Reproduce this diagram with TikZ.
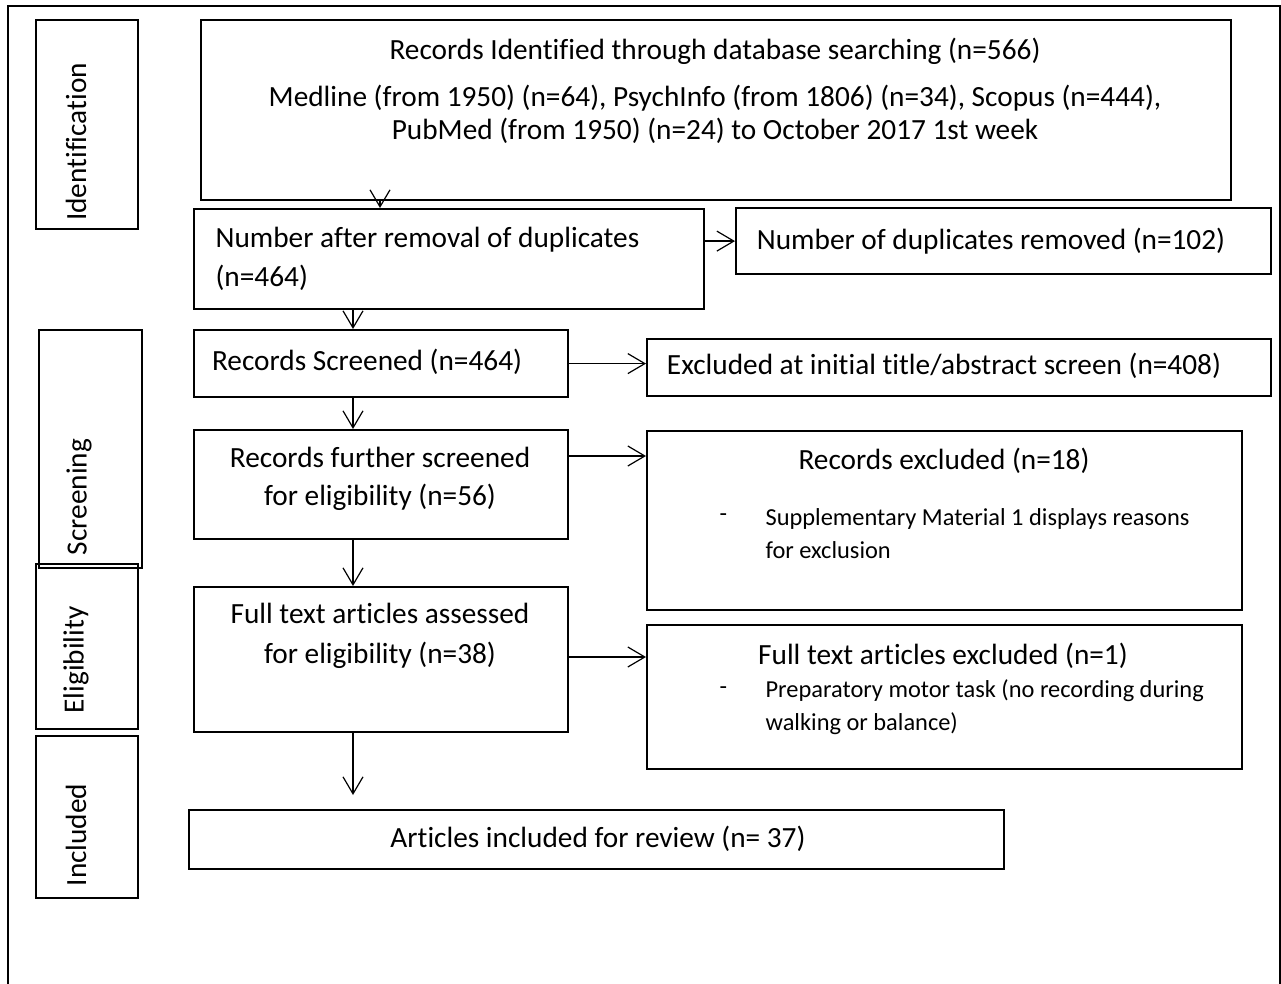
\documentclass[tikz,border=0pt]{standalone}
\usepackage{fontspec}
\setmainfont{Carlito}[RawFeature={-liga;-clig;-calt;-dlig}]
\usetikzlibrary{arrows.meta,positioning}

\newcommand{\flowfont}{\fontsize{29.3}{38}\selectfont}
\newcommand{\notefont}{\fontsize{24.4}{33}\selectfont}

\begin{document}
\begin{tikzpicture}[x=1pt,y=-1pt,->,>={Straight Barb[length=17pt,width=20pt]},line width=1.2pt]
%\tikzstyle{every edge}=[draw]
\tikzset{box/.style={draw,line width=2.2pt,inner sep=0pt,anchor=north west}}
\tikzset{txt/.style={inner sep=0pt,font=\flowfont,align=center}}
\tikzset{note/.style={inner sep=0pt,font=\notefont,align=left,anchor=west}}
\tikzset{side/.style={txt,rotate=90}}

\useasboundingbox (0,0) rectangle (1281,984);
\draw[-,line width=2.2pt] (8,984) -- (8,6) -- (1280,6) -- (1280,984);

% stage boxes on the left
\node[box,minimum width=102pt,minimum height=209pt]	(ident)		at (35,19)	{};
\node[box,minimum width=103pt,minimum height=238pt]	(screen)	at (38,329)	{};
\node[box,minimum width=102pt,minimum height=165pt]	(elig)		at (35,563)	{};
\node[box,minimum width=102pt,minimum height=162pt]	(incl)		at (35,735)	{};

\node[side]	(identT)	at (76,142)	{Identification};
\node[side]	(screenT)	at (79,497)	{Screening};
\node[side]	(eligT)		at (76,660)	{Eligibility};
\node[side]	(inclT)		at (76,835)	{Included};

% flow boxes
\node[box,minimum width=1030pt,minimum height=180pt]	(top)		at (200,19)	{};
\node[box,minimum width=510pt,minimum height=100pt]	(dupl)		at (193,208)	{};
\node[box,minimum width=535pt,minimum height=66pt]	(removed)	at (735,207)	{};
\node[box,minimum width=374pt,minimum height=67pt]	(screened)	at (193,329)	{};
\node[box,minimum width=624pt,minimum height=57pt]	(excl1)		at (646,338)	{};
\node[box,minimum width=374pt,minimum height=109pt]	(further)	at (193,429)	{};
\node[box,minimum width=595pt,minimum height=179pt]	(excl2)		at (646,430)	{};
\node[box,minimum width=374pt,minimum height=145pt]	(fulltext)	at (193,586)	{};
\node[box,minimum width=595pt,minimum height=144pt]	(excl3)		at (646,624)	{};
\node[box,minimum width=815pt,minimum height=59pt]	(included)	at (188,809)	{};

% texts
\node[txt,font=\fontsize{29.3}{33}\selectfont]	(topT)	at (715,91)
	{Records Identified through database searching (n=566)\\[14pt]
	 Medline (from 1950) (n=64), PsychInfo (from 1806) (n=34), Scopus (n=444),\\
	 PubMed (from 1950) (n=24) to October 2017 1st week};
\node[txt,align=left,anchor=west,font=\fontsize{29.3}{39}\selectfont]	(duplT)	at (215,259)
	{Number after removal of duplicates\\(n=464)};
\node[txt]	(removedT)	at (991,241)	{Number of duplicates removed (n=102)};
\node[txt]	(screenedT)	at (367,362)	{Records Screened (n=464)};
\node[txt]	(excl1T)	at (944,366)	{Excluded at initial title/abstract screen (n=408)};
\node[txt]	(furtherT)	at (380,479)	{Records further screened\\for eligibility (n=56)};
\node[txt]	(excl2T)	at (944,461)	{Records excluded (n=18)};
\node[note]	(excl2D)	at (719,518)	{-};
\node[note]	(excl2L)	at (765,534)	{Supplementary Material 1 displays reasons\\for exclusion};
\node[txt,font=\fontsize{29.3}{40}\selectfont]	(fulltextT)	at (380,636)	{Full text articles assessed\\for eligibility (n=38)};
\node[txt]	(excl3T)	at (943,656)	{Full text articles excluded (n=1)};
\node[note]	(excl3D)	at (719,691)	{-};
\node[note]	(excl3L)	at (765,707)	{Preparatory motor task (no recording during\\walking or balance)};
\node[txt]	(includedT)	at (598,839)	{Articles included for review (n= 37)};

% connectors
\path	([xshift=180pt]top.south west)	edge	([xshift=187pt]dupl.north west)
	(dupl.east |- removed.west)	edge	(removed.west)
	([xshift=160pt]dupl.south west)	edge	([xshift=160pt]screened.north west)
	(screened.east)	edge	(screened.east -| excl1.west)
	([xshift=160pt]screened.south west)	edge	([xshift=160pt]further.north west)
	([yshift=-27pt]further.north east)	edge	([yshift=-26pt]excl2.north west)
	([xshift=160pt]further.south west)	edge	([xshift=160pt]fulltext.north west)
	([yshift=-71pt]fulltext.north east)	edge	([yshift=-33pt]excl3.north west)
	([xshift=160pt]fulltext.south west)	edge	([xshift=165pt,yshift=14pt]included.north west);
\end{tikzpicture}
\end{document}
